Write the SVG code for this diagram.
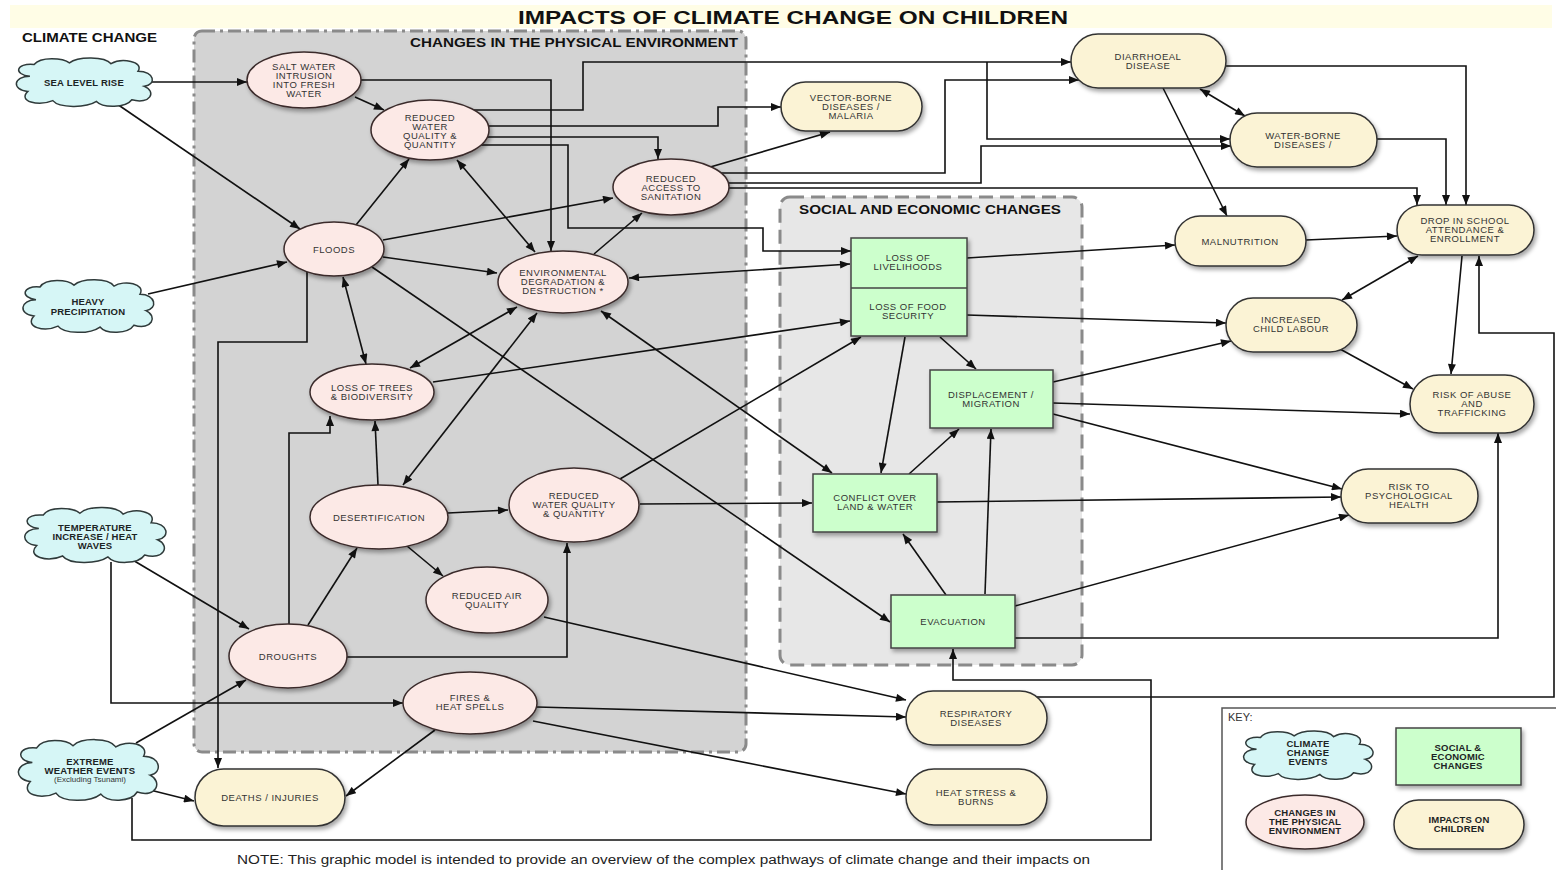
<svg xmlns="http://www.w3.org/2000/svg" xmlns:xlink="http://www.w3.org/1999/xlink" width="1556" height="870" viewBox="0 0 1556 870">
<defs>
<style>
.t{font-family:"Liberation Sans",Arial,sans-serif;font-size:9.5px;letter-spacing:0.5px;fill:#333;text-anchor:middle}
.tb{font-family:"Liberation Sans",Arial,sans-serif;font-size:9.5px;letter-spacing:0.2px;font-weight:bold;fill:#1c2424;text-anchor:middle}
.h{font-family:"Liberation Sans",Arial,sans-serif;font-weight:bold;fill:#111}
.el{fill:#fce9e6;stroke:#3a2b2b;stroke-width:1.5;filter:url(#sh)}
.gr{fill:#ccffcc;stroke:#444;stroke-width:1.5;filter:url(#sh)}
.yl{fill:#fbf3d5;stroke:#333;stroke-width:1.5;filter:url(#sh)}
.c{fill:none;stroke:#111;stroke-width:1.6;marker-end:url(#ah)}
.d{marker-start:url(#ah)}
</style>
<filter id="sh" x="-20%" y="-20%" width="150%" height="160%">
<feDropShadow dx="2" dy="3" stdDeviation="2" flood-color="#000" flood-opacity="0.35"/>
</filter>
<marker id="ah" viewBox="0 0 10 8" refX="10" refY="4" markerWidth="11" markerHeight="8" markerUnits="userSpaceOnUse" orient="auto-start-reverse">
<path d="M0,0 L10,4 L0,8 z" fill="#111"/>
</marker>
<path id="cloud" d="M-52,-8 C-68,-10 -66,-24 -48,-22 C-42,-32 -20,-30 -14,-24 C-6,-32 20,-32 26,-23 C36,-30 58,-26 52,-14 C68,-14 70,2 58,4 C70,10 64,26 46,20 C40,30 18,30 12,22 C2,30 -24,30 -30,21 C-44,28 -64,22 -54,10 C-70,8 -68,-8 -52,-8 Z" fill="#d6f6f6" stroke="#2f3a3a" stroke-width="1.5" vector-effect="non-scaling-stroke"/>
</defs>
<rect width="1556" height="870" fill="#fff"/>
<rect x="10" y="5" width="1542" height="23" fill="#fffde6"/>
<text class="h" x="518" y="24" font-size="18" textLength="550" lengthAdjust="spacingAndGlyphs">IMPACTS OF CLIMATE CHANGE ON CHILDREN</text>
<text class="h" x="22" y="42" font-size="13" textLength="135" lengthAdjust="spacingAndGlyphs">CLIMATE CHANGE</text>

<g id="physical-env-group">
<rect x="194" y="31" width="552" height="721" rx="8" fill="#d3d3d3" stroke="#8a8a8a" stroke-width="3" stroke-dasharray="13,5,3,5"/>
<text class="h" x="410" y="47" font-size="13.5" textLength="328" lengthAdjust="spacingAndGlyphs">CHANGES IN THE PHYSICAL ENVIRONMENT</text>
</g>
<g id="social-econ-group">
<rect x="780" y="197" width="302" height="468" rx="10" fill="#e7e7e7" stroke="#8a8a8a" stroke-width="3" stroke-dasharray="14,7"/>
<text class="h" x="799" y="214" font-size="13.5" textLength="262" lengthAdjust="spacingAndGlyphs">SOCIAL AND ECONOMIC CHANGES</text>
</g>

<g id="connectors">
<path class="c" d="M152,82 H247"/>
<path class="c" d="M117,104 L300,229"/>
<path class="c" d="M148,294 L287,262"/>
<path class="c" d="M355,97 L384,110"/>
<path class="c" d="M361,80 H551 V251"/>
<path class="c" d="M474,110 H583 V62 H1071"/>
<path class="c" d="M987,62 V139 H1230"/>
<path class="c" d="M488,126 H718 V107 H781"/>
<path class="c" d="M487,137 H658 V159"/>
<path class="c" d="M481,145 H568 V228 H763 V251 H851"/>
<path class="c" d="M721,173 H945 V80 H1079"/>
<path class="c" d="M728,183 H981 V146 H1231"/>
<path class="c" d="M729,188 H1417 V205"/>
<path class="c" d="M700,170 L830,132"/>
<path class="c" d="M1226,66 H1466 V205"/>
<path class="c d" d="M1200,89 L1245,116"/>
<path class="c" d="M1163,88 L1227,216"/>
<path class="c" d="M1377,139 H1446 V205"/>
<path class="c" d="M1306,240 L1397,236"/>
<path class="c d" d="M1418,256 L1342,300"/>
<path class="c" d="M1462,256 L1451,374"/>
<path class="c" d="M1037,697 H1554 V333 H1479 V256"/>
<path class="c" d="M1015,638 H1498 V433"/>
<path class="c" d="M967,258 L1175,245"/>
<path class="c d" d="M629,278 L850,264"/>
<path class="c" d="M967,315 L1226,323"/>
<path class="c" d="M433,382 L850,321"/>
<path class="c" d="M620,479 L861,337"/>
<path class="c" d="M905,337 L881,473"/>
<path class="c" d="M940,337 L976,369"/>
<path class="c" d="M909,474 L959,429"/>
<path class="c" d="M946,595 L903,534"/>
<path class="c" d="M985,594 L991,429"/>
<path class="c" d="M1053,382 L1231,341"/>
<path class="c" d="M1053,403 L1410,414"/>
<path class="c" d="M1053,414 L1342,489"/>
<path class="c" d="M937,502 L1341,497"/>
<path class="c" d="M1015,606 L1349,515"/>
<path class="c" d="M1340,349 L1413,389"/>
<path class="c" d="M640,504 L812,503"/>
<path class="c d" d="M601,311 L832,473"/>
<path class="c" d="M372,267 L890,622"/>
<path class="c" d="M383,240 L613,198"/>
<path class="c" d="M383,257 L497,273"/>
<path class="c" d="M356,225 L409,159"/>
<path class="c d" d="M457,160 L535,252"/>
<path class="c" d="M594,254 L642,213"/>
<path class="c d" d="M343,277 L366,364"/>
<path class="c d" d="M517,307 L410,368"/>
<path class="c d" d="M537,313 L403,485"/>
<path class="c" d="M378,485 L375,421"/>
<path class="c" d="M289,624 V433 H330 V416"/>
<path class="c" d="M448,513 L508,510"/>
<path class="c" d="M407,546 L443,576"/>
<path class="c" d="M308,625 L357,548"/>
<path class="c" d="M347,657 H567 V543"/>
<path class="c" d="M131,559 L249,629"/>
<path class="c" d="M111,562 V703 H403"/>
<path class="c" d="M136,743 L246,680"/>
<path class="c" d="M146,789 L194,801"/>
<path class="c" d="M132,798 V840 H1151 V680 H953 V649"/>
<path class="c" d="M307,272 V342 H218 V768"/>
<path class="c" d="M435,730 L346,796"/>
<path class="c" d="M537,707 L906,717"/>
<path class="c" d="M533,721 L906,794"/>
<path class="c" d="M544,617 L906,700"/>
</g>

<g id="sea-level-rise"><use href="#cloud" transform="translate(84,83) scale(1.04,0.84)"/><text class="tb" x="84" y="86">SEA LEVEL RISE</text></g>
<g id="heavy-precipitation"><use href="#cloud" transform="translate(88,307) scale(1.0,0.91)"/><text class="tb" x="88" y="305">HEAVY</text><text class="tb" x="88" y="315">PRECIPITATION</text></g>
<g id="temperature-increase"><use href="#cloud" transform="translate(95,536) scale(1.08,0.95)"/><text class="tb" x="95" y="531">TEMPERATURE</text><text class="tb" x="95" y="540">INCREASE / HEAT</text><text class="tb" x="95" y="549">WAVES</text></g>
<g id="extreme-weather"><use href="#cloud" transform="translate(88,771) scale(1.07,1.05)"/><text class="tb" x="90" y="765">EXTREME</text><text class="tb" x="90" y="774">WEATHER EVENTS</text><text class="t" x="90" y="782" style="font-size:8px;letter-spacing:0">(Excluding Tsunami)</text></g>

<g id="salt-water"><ellipse class="el" cx="304" cy="80" rx="57" ry="28"/><text class="t" x="304" y="70">SALT WATER</text><text class="t" x="304" y="79">INTRUSION</text><text class="t" x="304" y="88">INTO FRESH</text><text class="t" x="304" y="97">WATER</text></g>
<g id="reduced-water-top"><ellipse class="el" cx="430" cy="130" rx="59" ry="30"/><text class="t" x="430" y="121">REDUCED</text><text class="t" x="430" y="130">WATER</text><text class="t" x="430" y="139">QUALITY &amp;</text><text class="t" x="430" y="148">QUANTITY</text></g>
<g id="reduced-sanitation"><ellipse class="el" cx="671" cy="187" rx="58" ry="28"/><text class="t" x="671" y="182">REDUCED</text><text class="t" x="671" y="191">ACCESS TO</text><text class="t" x="671" y="200">SANITATION</text></g>
<g id="floods"><ellipse class="el" cx="334" cy="249" rx="50" ry="27"/><text class="t" x="334" y="253">FLOODS</text></g>
<g id="env-degradation"><ellipse class="el" cx="563" cy="282" rx="65" ry="31"/><text class="t" x="563" y="276">ENVIRONMENTAL</text><text class="t" x="563" y="285">DEGRADATION &amp;</text><text class="t" x="563" y="294">DESTRUCTION *</text></g>
<g id="loss-of-trees"><ellipse class="el" cx="372" cy="392" rx="62" ry="28"/><text class="t" x="372" y="391">LOSS OF TREES</text><text class="t" x="372" y="400">&amp; BIODIVERSITY</text></g>
<g id="desertification"><ellipse class="el" cx="379" cy="517" rx="69" ry="32"/><text class="t" x="379" y="521">DESERTIFICATION</text></g>
<g id="reduced-water-lower"><ellipse class="el" cx="574" cy="505" rx="65" ry="37"/><text class="t" x="574" y="499">REDUCED</text><text class="t" x="574" y="508">WATER QUALITY</text><text class="t" x="574" y="517">&amp; QUANTITY</text></g>
<g id="reduced-air"><ellipse class="el" cx="487" cy="600" rx="61" ry="33"/><text class="t" x="487" y="599">REDUCED AIR</text><text class="t" x="487" y="608">QUALITY</text></g>
<g id="droughts"><ellipse class="el" cx="288" cy="656" rx="59" ry="32"/><text class="t" x="288" y="660">DROUGHTS</text></g>
<g id="fires"><ellipse class="el" cx="470" cy="703" rx="67" ry="31"/><text class="t" x="470" y="701">FIRES &amp;</text><text class="t" x="470" y="710">HEAT SPELLS</text></g>

<g id="livelihoods-food"><rect class="gr" x="851" y="238" width="116" height="98"/><line x1="851" y1="288" x2="967" y2="288" stroke="#444" stroke-width="1.5"/><text class="t" x="908" y="261">LOSS OF</text><text class="t" x="908" y="270">LIVELIHOODS</text><text class="t" x="908" y="310">LOSS OF FOOD</text><text class="t" x="908" y="319">SECURITY</text></g>
<g id="displacement"><rect class="gr" x="930" y="370" width="123" height="58"/><text class="t" x="991" y="398">DISPLACEMENT /</text><text class="t" x="991" y="407">MIGRATION</text></g>
<g id="conflict"><rect class="gr" x="813" y="474" width="124" height="58"/><text class="t" x="875" y="501">CONFLICT OVER</text><text class="t" x="875" y="510">LAND &amp; WATER</text></g>
<g id="evacuation"><rect class="gr" x="891" y="595" width="124" height="53"/><text class="t" x="953" y="625">EVACUATION</text></g>

<g id="diarrhoeal"><rect class="yl" x="1071" y="34" width="155" height="54" rx="27"/><text class="t" x="1148" y="60">DIARRHOEAL</text><text class="t" x="1148" y="69">DISEASE</text></g>
<g id="vector-borne"><rect class="yl" x="781" y="82" width="141" height="49" rx="24.5"/><text class="t" x="851" y="101">VECTOR-BORNE</text><text class="t" x="851" y="110">DISEASES /</text><text class="t" x="851" y="119">MALARIA</text></g>
<g id="water-borne"><rect class="yl" x="1230" y="113" width="147" height="54" rx="27"/><text class="t" x="1303" y="139">WATER-BORNE</text><text class="t" x="1303" y="148">DISEASES /</text></g>
<g id="malnutrition"><rect class="yl" x="1175" y="216" width="131" height="50" rx="25"/><text class="t" x="1240" y="245">MALNUTRITION</text></g>
<g id="drop-in-school"><rect class="yl" x="1397" y="205" width="137" height="50" rx="25"/><text class="t" x="1465" y="224">DROP IN SCHOOL</text><text class="t" x="1465" y="233">ATTENDANCE &amp;</text><text class="t" x="1465" y="242">ENROLLMENT</text></g>
<g id="child-labour"><rect class="yl" x="1226" y="298" width="131" height="54" rx="27"/><text class="t" x="1291" y="323">INCREASED</text><text class="t" x="1291" y="332">CHILD LABOUR</text></g>
<g id="risk-abuse"><rect class="yl" x="1410" y="375" width="124" height="58" rx="29"/><text class="t" x="1472" y="398">RISK OF ABUSE</text><text class="t" x="1472" y="407">AND</text><text class="t" x="1472" y="416">TRAFFICKING</text></g>
<g id="risk-psych"><rect class="yl" x="1341" y="469" width="137" height="54" rx="27"/><text class="t" x="1409" y="490">RISK TO</text><text class="t" x="1409" y="499">PSYCHOLOGICAL</text><text class="t" x="1409" y="508">HEALTH</text></g>
<g id="respiratory"><rect class="yl" x="906" y="691" width="141" height="54" rx="27"/><text class="t" x="976" y="717">RESPIRATORY</text><text class="t" x="976" y="726">DISEASES</text></g>
<g id="heat-stress"><rect class="yl" x="906" y="769" width="141" height="56" rx="28"/><text class="t" x="976" y="796">HEAT STRESS &amp;</text><text class="t" x="976" y="805">BURNS</text></g>
<g id="deaths-injuries"><rect class="yl" x="195" y="769" width="150" height="57" rx="28.5"/><text class="t" x="270" y="801">DEATHS / INJURIES</text></g>

<g id="key">
<rect x="1222" y="708" width="345" height="170" fill="#fff" stroke="#555" stroke-width="1.5"/>
<text x="1228" y="721" style="font-family:'Liberation Sans',Arial,sans-serif;font-size:11px;fill:#333">KEY:</text>
<use href="#cloud" transform="translate(1308,756) scale(0.99,0.84)"/>
<text class="tb" x="1308" y="747">CLIMATE</text><text class="tb" x="1308" y="756">CHANGE</text><text class="tb" x="1308" y="765">EVENTS</text>
<rect class="gr" x="1396" y="728" width="125" height="57"/>
<text class="tb" x="1458" y="751">SOCIAL &amp;</text><text class="tb" x="1458" y="760">ECONOMIC</text><text class="tb" x="1458" y="769">CHANGES</text>
<ellipse class="el" cx="1305" cy="822" rx="59" ry="27"/>
<text class="tb" x="1305" y="816">CHANGES IN</text><text class="tb" x="1305" y="825">THE PHYSICAL</text><text class="tb" x="1305" y="834">ENVIRONMENT</text>
<rect class="yl" x="1394" y="800" width="130" height="49" rx="24.5"/>
<text class="tb" x="1459" y="823">IMPACTS ON</text><text class="tb" x="1459" y="832">CHILDREN</text>
</g>

<text x="237" y="864" textLength="853" lengthAdjust="spacingAndGlyphs" style="font-family:'Liberation Sans',Arial,sans-serif;font-size:12.5px;fill:#222">NOTE: This graphic model is intended to provide an overview of the complex pathways of climate change and their impacts on</text>
</svg>
